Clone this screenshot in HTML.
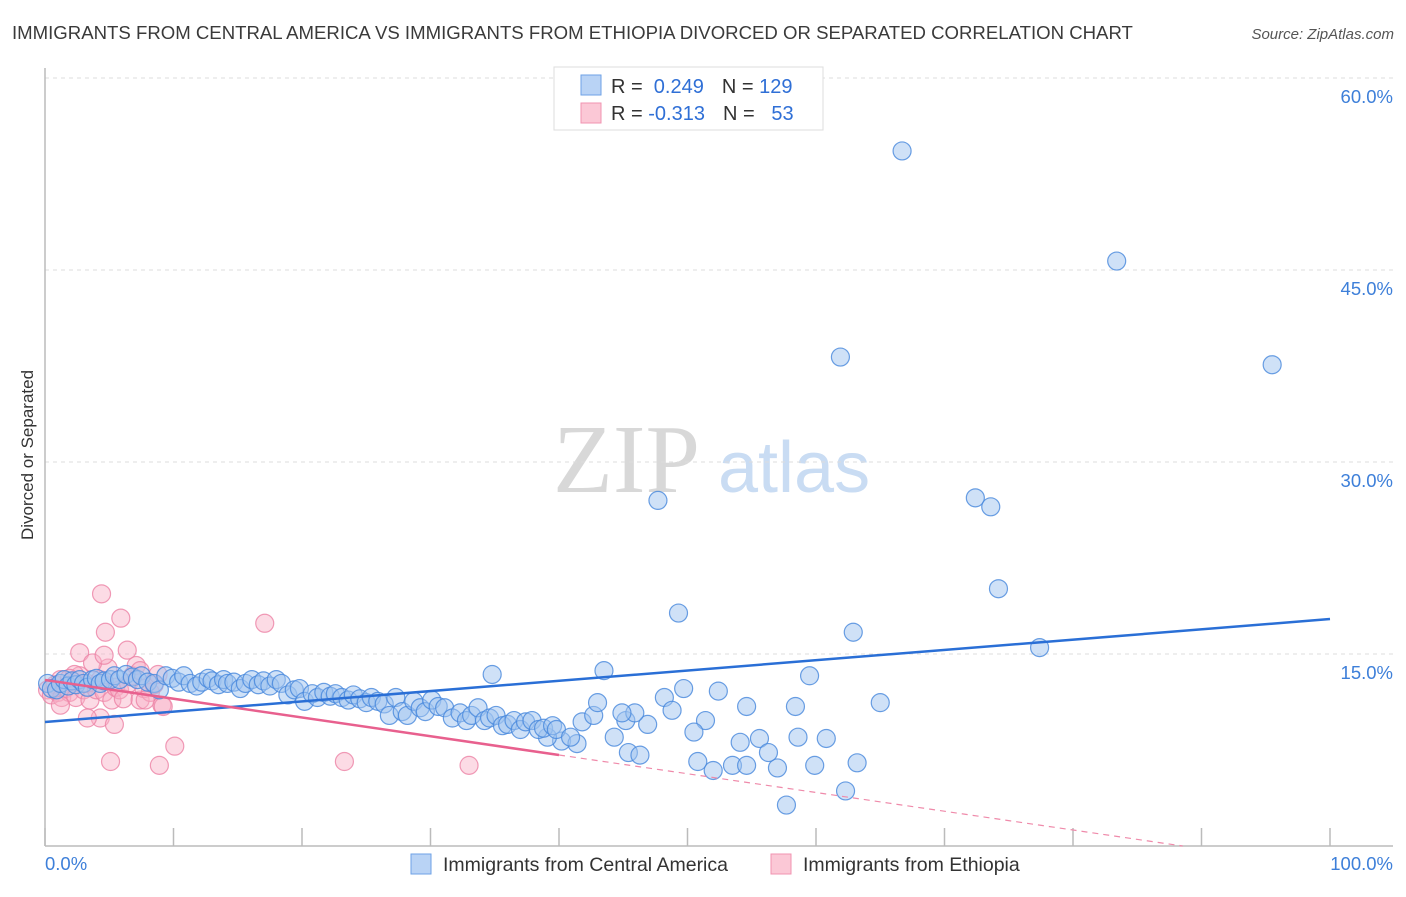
<!DOCTYPE html>
<html><head><meta charset="utf-8"><style>
body{margin:0;background:#fff;font-family:"Liberation Sans",sans-serif}
</style></head><body>
<svg id="chart" width="1406" height="892" viewBox="0 0 1406 892" font-family="Liberation Sans, sans-serif">
<text x="12" y="39" font-size="18.6" fill="#3a3a3a">IMMIGRANTS FROM CENTRAL AMERICA VS IMMIGRANTS FROM ETHIOPIA DIVORCED OR SEPARATED CORRELATION CHART</text>
<text x="1394" y="39" font-size="15" fill="#555" font-style="italic" text-anchor="end">Source: ZipAtlas.com</text>
<text x="33" y="455" font-size="17" fill="#333" text-anchor="middle" transform="rotate(-90 33 455)">Divorced or Separated</text>
<g><text x="553" y="492" font-size="98" style="font-family:'Liberation Serif',serif" fill="#d8d8d8">ZIP</text><text x="718" y="492" font-size="72" fill="#c9dcf3">atlas</text></g>
<g id="grid"></g><g id="axes"></g><g id="pts"></g><g id="lines"></g>
<g>
<rect x="554" y="67" width="269" height="63" fill="#fff" stroke="#ddd"/>
<rect x="581" y="75" width="20" height="20" fill="#b9d3f5" stroke="#6ea2e6"/>
<rect x="581" y="103" width="20" height="20" fill="#fbc8d6" stroke="#f093b0"/>
<text x="611" y="93" font-size="20" fill="#333">R = <tspan fill="#2f6fd6">&#160;0.249</tspan><tspan dx="18">N = </tspan><tspan fill="#2f6fd6">129</tspan></text>
<text x="611" y="120" font-size="20" fill="#333">R = <tspan fill="#2f6fd6">-0.313</tspan><tspan dx="18">N = </tspan><tspan fill="#2f6fd6">&#160;&#160;53</tspan></text>
</g>
<g>
<rect x="411" y="854" width="20" height="20" fill="#b9d3f5" stroke="#6ea2e6"/>
<text x="443" y="871" font-size="19.5" fill="#333">Immigrants from Central America</text>
<rect x="771" y="854" width="20" height="20" fill="#fbc8d6" stroke="#f093b0"/>
<text x="803" y="871" font-size="19.5" fill="#333">Immigrants from Ethiopia</text>
</g>
</svg>
<script>
const yTicks=[15,30,45,60];
const yTickLabels=["15.0%","30.0%","45.0%","60.0%"];
const xTicks=[0,10,20,30,40,50,60,70,80,90,100];
const xEndLabels=["0.0%","100.0%"];
const blueX=[66.7,83.4,61.9,95.5,47.7,72.4,73.6,74.2,49.3,62.9,77.4,43.5,34.8,59.5,49.7,52.4,48.2,65.0,54.6,58.4,48.8,51.4,44.3,50.5,54.1,55.6,58.6,60.8,41.8,42.7,45.2,46.9,45.9,43.0,44.9,50.8,52.0,53.5,54.6,57.0,59.9,63.2,56.3,62.3,57.7,45.4,46.3,40.2,41.4,39.1,
0.2,0.5,0.9,1.2,1.5,1.8,2.1,2.4,2.7,3.0,3.3,3.7,4.0,4.3,4.6,5.1,5.4,5.8,6.3,6.8,7.2,7.5,8.0,8.5,8.9,9.4,9.9,10.4,10.8,11.3,11.8,12.2,12.7,13.0,13.5,13.9,14.2,14.7,15.2,15.6,16.1,16.6,17.0,17.5,18.0,18.4,18.9,19.4,19.8,20.2,20.8,21.2,21.7,22.2,22.6,23.1,23.6,24.0,24.5,25.0,25.4,25.9,26.4,26.8,27.3,27.8,28.2,28.7,29.2,29.6,30.1,30.6,31.1,31.7,32.3,32.8,33.2,33.7,34.2,34.6,35.1,35.6,36.0,36.5,37.0,37.4,37.9,38.4,38.8,39.5,39.8,40.9];
const blueY=[54.3,45.7,38.2,37.6,27.0,27.2,26.5,20.1,18.2,16.7,15.5,13.7,13.4,13.3,12.3,12.1,11.6,11.2,10.9,10.9,10.6,9.8,8.5,8.9,8.1,8.4,8.5,8.4,9.7,10.2,9.8,9.5,10.4,11.2,10.4,6.6,5.9,6.3,6.3,6.1,6.3,6.5,7.3,4.3,3.2,7.3,7.1,8.2,8.0,8.5,
12.7,12.3,12.2,12.7,13.0,12.5,12.9,12.6,13.0,12.7,12.4,13.0,13.1,12.7,12.9,13.0,13.3,13.0,13.4,13.2,13.0,13.3,12.8,12.7,12.2,13.3,13.1,12.8,13.3,12.7,12.5,12.8,13.1,12.9,12.6,13.0,12.7,12.8,12.3,12.7,13.0,12.6,12.9,12.5,13.0,12.7,11.8,12.2,12.3,11.3,11.9,11.6,12.0,11.7,11.9,11.6,11.4,11.8,11.5,11.2,11.6,11.3,11.1,10.2,11.6,10.5,10.2,11.3,10.8,10.5,11.4,10.9,10.8,10.0,10.4,9.8,10.2,10.8,9.8,10.0,10.2,9.4,9.5,9.8,9.1,9.7,9.8,9.1,9.2,9.4,9.1,8.5];
const pinkX=[0.2,0.5,0.8,1.0,1.2,1.3,1.6,1.9,2.3,2.4,2.7,3.0,3.3,3.5,4.0,4.3,4.6,4.9,5.2,5.5,5.8,6.1,6.5,6.8,7.1,7.4,7.7,8.2,8.5,8.8,9.1,4.3,3.3,5.4,2.7,3.7,4.6,4.7,5.9,4.4,6.4,2.3,17.1,7.8,9.2,10.1,5.1,8.9,23.3,33.0,1.2,1.9,7.4];
const pinkY=[12.2,11.8,12.6,12.0,13.0,11.6,12.3,12.0,12.8,11.6,13.3,12.2,12.7,11.4,12.2,13.0,12.0,13.9,11.4,12.4,12.2,11.5,12.7,13.3,14.1,11.4,12.3,12.0,12.6,13.4,11.0,10.0,10.0,9.5,15.1,14.3,14.9,16.7,17.8,19.7,15.3,13.4,17.4,11.4,10.9,7.8,6.6,6.3,6.6,6.3,11.0,13.1,13.7];
const blueTrend=[9.69,17.73];
const pinkTrend=[12.97,-1.68];
const pinkSolidEnd=40;

const NS="http://www.w3.org/2000/svg";
const X0=45,X1=1330,Y0=846,PXPER=12.8;
function sx(v){return X0+(X1-X0)*v/100;}
function sy(v){return Y0-v*PXPER;}
function mk(t,a,p){const e=document.createElementNS(NS,t);for(const k in a)e.setAttribute(k,a[k]);p.appendChild(e);return e;}
const gGrid=document.getElementById('grid'),gAxes=document.getElementById('axes'),gPts=document.getElementById('pts'),gLines=document.getElementById('lines');
yTicks.forEach((t,i)=>{
 const l=mk('line',{x1:X0,x2:1393,y1:sy(t),y2:sy(t),stroke:'#ddd','stroke-dasharray':'4,4'},gGrid);
 
 
 const tx=mk('text',{x:1393,y:sy(t)+25,'text-anchor':'end','font-size':18.5,fill:'#3d7fd9'},gAxes);
 tx.textContent=yTickLabels[i];
 
 
});
const yAxis=mk('line',{x1:X0,x2:X0,y1:68,y2:Y0,stroke:'#bbb','stroke-width':1.5},gAxes);


const xAxis=mk('line',{x1:X0,x2:1393,y1:Y0,y2:Y0,stroke:'#bbb','stroke-width':1.5},gAxes);


xTicks.forEach(t=>{
 const l=mk('line',{x1:sx(t),x2:sx(t),y1:828,y2:Y0,stroke:'#bbb','stroke-width':1.5},gAxes);
 
 
});
const xl0=mk('text',{x:45,y:870,'font-size':18.5,fill:'#3d7fd9'},gAxes);xl0.textContent=xEndLabels[0];


const xl1=mk('text',{x:1393,y:870,'font-size':18.5,fill:'#3d7fd9','text-anchor':'end'},gAxes);xl1.textContent=xEndLabels[1];


pinkX.forEach((v,i)=>{
 const c=mk('circle',{cx:sx(v),cy:sy(pinkY[i]),r:9,fill:'rgba(248,175,198,0.45)',stroke:'rgba(236,130,165,0.8)','stroke-width':1.2},gPts);
 
 
});
blueX.forEach((v,i)=>{
 const c=mk('circle',{cx:sx(v),cy:sy(blueY[i]),r:9,fill:'rgba(160,196,240,0.5)',stroke:'rgba(70,135,220,0.8)','stroke-width':1.2},gPts);
 
 
});
const bl=mk('line',{x1:sx(0),y1:sy(blueTrend[0]),x2:sx(100),y2:sy(blueTrend[1]),stroke:'#2a6fd6','stroke-width':2.5},gLines);


function pAt(x){return pinkTrend[0]+(pinkTrend[1]-pinkTrend[0])*x/100;}
const pinkZero=Math.min(100,100*pinkTrend[0]/(pinkTrend[0]-pinkTrend[1]));
const pl=mk('line',{x1:sx(0),y1:sy(pAt(0)),x2:sx(pinkSolidEnd),y2:sy(pAt(pinkSolidEnd)),stroke:'#e8608e','stroke-width':2.5},gLines);


const pd=mk('line',{x1:sx(pinkSolidEnd),y1:sy(pAt(pinkSolidEnd)),x2:sx(pinkZero),y2:sy(pAt(pinkZero)),stroke:'#ef8aaa','stroke-width':1.2,'stroke-dasharray':'6,5'},gLines);


</script>
</body></html>
